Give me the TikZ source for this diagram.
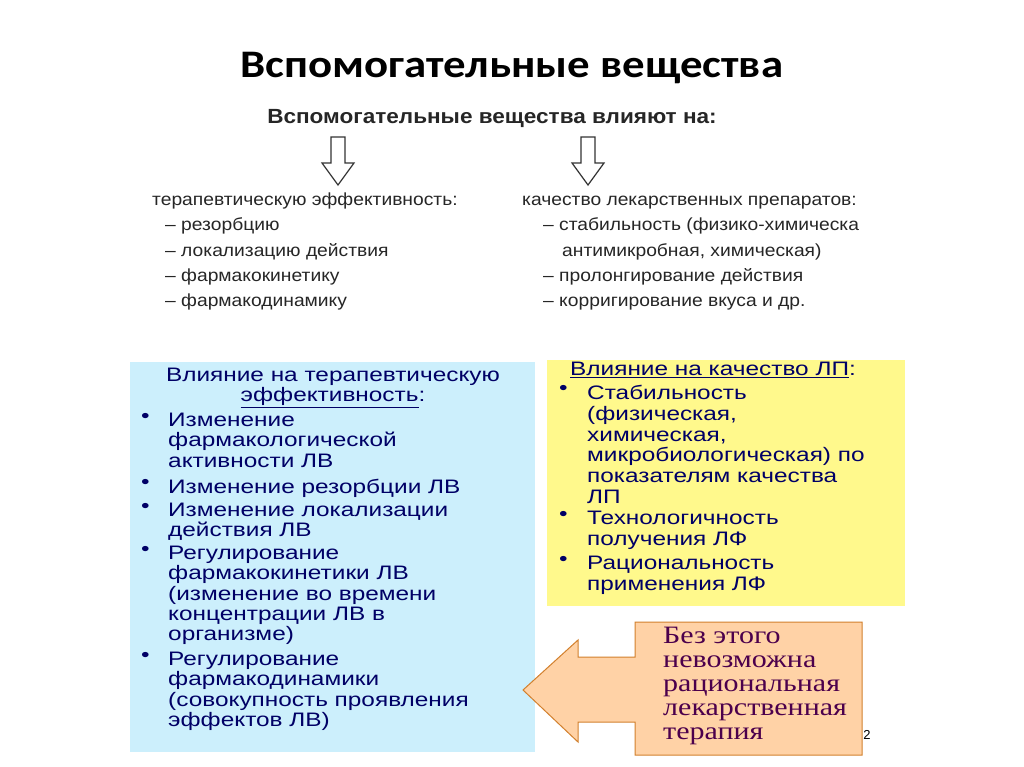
\documentclass[tikz,border=0pt]{standalone}
\usepackage{fontspec}
\setmainfont{Liberation Sans}
\newfontfamily\ttl[FakeStretch=1.15]{Carlito}
\newfontfamily\srf[FakeStretch=1.2]{Liberation Serif}
\newfontfamily\wideA[FakeStretch=1.25]{Liberation Sans}
\newfontfamily\wideB[FakeStretch=1.1]{Liberation Sans}
\begin{document}
\begin{tikzpicture}[x=1pt,y=-1pt,
  top/.style={anchor=base west,inner sep=0pt,font=\wideB\fontsize{17.5}{20}\selectfont,text=black!85},
  blu/.style={anchor=north west,inner sep=0pt,align=left,text=blue!40!black,font=\wideA\fontsize{19.5}{20.3}\selectfont},
  yel/.style={anchor=north west,inner sep=0pt,align=left,text=blue!40!black,font=\wideA\fontsize{19.5}{20.8}\selectfont},
  hollow/.style={draw=black!80,line width=1.2pt,fill=white}]
\useasboundingbox (0,0) rectangle (1024,767);
\fill[white] (0,0) rectangle (1024,767);
\node[font=\ttl\bfseries\fontsize{39}{44}\selectfont] (title) at (512,68) {Вспомогательные вещества};
\node[font=\wideB\bfseries\fontsize{20.5}{22}\selectfont,text=black!85] (sub) at (492,118) {Вспомогательные вещества влияют на:};
\foreach \n/\cx in {a1/338,a2/588}{
  \draw[hollow] (\cx-7,137) -- (\cx+7,137) -- (\cx+7,163) -- (\cx+16,163) -- (\cx,185) -- (\cx-16,163) -- (\cx-7,163) -- cycle;
}
\node[top] (l0) at (152,206) {терапевтическую эффективность:};
\node[top] (l1) at (165,231) {– резорбцию};
\node[top] (l2) at (165,256) {– локализацию действия};
\node[top] (l3) at (165,281) {– фармакокинетику};
\node[top] (l4) at (165,306) {– фармакодинамику};
\node[top] (r0) at (522,206) {качество лекарственных препаратов:};
\node[top] (r1) at (543,231) {– стабильность (физико-химическа};
\node[top] (r2) at (562,256) {антимикробная, химическая)};
\node[top] (r3) at (543,281) {– пролонгирование действия};
\node[top] (r4) at (543,306) {– корригирование вкуса и др.};
\fill[cyan!20] (130,362) rectangle (535,752);
\node[blu,align=center,anchor=north] (bh) at (333,368) {Влияние на терапевтическую\\\underline{эффективность}:};
\foreach \y/\t in {413/{Изменение\\фармакологической\\активности ЛВ},479/{Изменение резорбции ЛВ},503/{Изменение локализации\\действия ЛВ},546/{Регулирование\\фармакокинетики ЛВ\\(изменение во времени\\концентрации ЛВ в\\организме)},652/{Регулирование\\фармакодинамики\\(совокупность проявления\\эффектов ЛВ)}}{
  \node[blu] at (141,\y) {•};
  \node[blu] at (168,\y) {\t};
}
\fill[yellow!45] (547,360) rectangle (905,606);
\node[yel] (yh) at (570,362) {\underline{Влияние на качество ЛП}:};
\foreach \y/\t in {385/{Стабильность\\(физическая,\\химическая,\\микробиологическая) по\\показателям качества\\ЛП},511/{Технологичность\\получения ЛФ},556/{Рациональность\\применения ЛФ}}{
  \node[yel] at (559,\y) {•};
  \node[yel] at (587,\y) {\t};
}
\draw[fill=orange!35!white,draw=brown!70!orange,line width=1pt]
  (635,622) -- (862,622) -- (862,755) -- (635,755) -- (635,722) -- (578,722) -- (578,742) -- (523,690) -- (578,640) -- (578,657) -- (635,657) -- cycle;
\node[anchor=north west,inner sep=0pt,align=left,text=violet!60!black,font=\srf\fontsize{25}{24}\selectfont] (ct) at (663,627) {Без этого\\невозможна\\рациональная\\лекарственная\\терапия};
\node[font=\fontsize{13}{14}\selectfont] (pg) at (867,735) {2};
\end{tikzpicture}
\end{document}
